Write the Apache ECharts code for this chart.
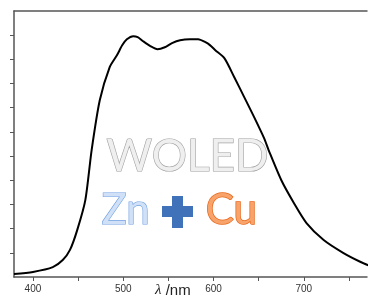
<!DOCTYPE html>
<html>
<head>
<meta charset="utf-8">
<script src="https://cdn.jsdelivr.net/npm/echarts@6/dist/echarts.min.js"></script>
<style>
  html, body { margin: 0; padding: 0; background: #fff; overflow: hidden; }
  #chart { width: 368px; height: 298px; }
</style>
</head>
<body>
<div id="chart"></div>
<script>
// spectrum (wavelength in nm, intensity in tick units)
var wavelength = [379, 400, 422, 433, 441, 449, 458, 465, 474, 485, 493, 499, 504, 511, 516, 522, 530, 538, 546, 554, 563, 574, 583, 591, 596, 602, 612, 623, 634, 645, 656, 661, 675, 689, 703, 722, 744, 763, 772];
var intensity = [0.12, 0.21, 0.41, 0.70, 1.12, 1.94, 3.18, 5.25, 7.31, 8.68, 9.17, 9.59, 9.83, 9.96, 9.92, 9.75, 9.55, 9.42, 9.50, 9.67, 9.79, 9.83, 9.83, 9.71, 9.59, 9.38, 9.05, 8.26, 7.44, 6.61, 5.74, 5.25, 4.01, 3.06, 2.23, 1.53, 0.99, 0.62, 0.48];
var xTicks = [400, 450, 500, 550, 600, 650, 700, 750];
var xLabels = [400, 500, 600, 700];
var yTicks = [1, 2, 3, 4, 5, 6, 7, 8, 9, 10];

var myChart = echarts.init(document.getElementById('chart'));

var points = wavelength.map(function (w, i) { return [w, intensity[i]]; });

var option = {
    animation: false,
    grid: { left: 14, top: 11, bottom: 21, right: 1 },
    xAxis: [
        {
            type: 'value',
            min: 379,
            max: 770,
            axisLine: { lineStyle: { color: '#555', width: 1.5 } },
            axisTick: { customValues: xTicks, length: 4, lineStyle: { color: '#555' } },
            axisLabel: { customValues: xLabels, color: '#333', fontSize: 10, margin: 7, fontFamily: 'Liberation Sans' },
            splitLine: { show: false }
        },
        {
            type: 'value',
            position: 'top',
            min: 379,
            max: 770,
            axisLine: { show: true, lineStyle: { color: '#555', width: 1.5 } },
            axisTick: { show: false },
            axisLabel: { show: false },
            splitLine: { show: false }
        }
    ],
    yAxis: {
        type: 'value',
        min: 0,
        max: 11,
        axisLine: { show: true, lineStyle: { color: '#555', width: 1.5 } },
        axisTick: { show: true, customValues: yTicks, length: 4, lineStyle: { color: '#555' } },
        axisLabel: { show: false },
        splitLine: { show: false }
    },
    graphic: [
        {
            type: 'text',
            left: 155,
            top: 283,
            style: {
                text: '{i|λ} /nm',
                rich: {
                    i: { fontStyle: 'italic', fontSize: 15, fontFamily: 'Liberation Serif', fill: '#222' }
                },
                fontSize: 15,
                fontFamily: 'Liberation Sans',
                fill: '#222'
            }
        },
        {
            type: 'text',
            left: 106,
            top: 134,
            style: {
                text: 'WOLED',
                fontSize: 44,
                fontFamily: 'Lato',
                fill: '#efefef',
                stroke: '#a0a0a0',
                lineWidth: 1.2
            }
        },
        {
            type: 'text',
            left: 101,
            top: 189,
            style: {
                text: 'Zn',
                fontSize: 42,
                fontFamily: 'Lato',
                fill: '#cfe0f7',
                stroke: '#6e9ee0',
                lineWidth: 1.2
            }
        },
        {
            type: 'rect',
            shape: { x: 172, y: 196, width: 11, height: 32 },
            style: { fill: '#3f72b8' }
        },
        {
            type: 'rect',
            shape: { x: 162, y: 206, width: 31, height: 11 },
            style: { fill: '#3f72b8' }
        },
        {
            type: 'text',
            left: 205,
            top: 189,
            style: {
                text: 'Cu',
                fontSize: 42,
                fontFamily: 'Lato',
                fill: '#f7a36a',
                stroke: '#e8681c',
                lineWidth: 1.5
            }
        }
    ],
    series: [
        {
            type: 'line',
            data: points,
            smooth: 0.25,
            showSymbol: false,
            lineStyle: { color: '#000', width: 2 },
            z: 5
        }
    ]
};

myChart.setOption(option);
</script>
</body>
</html>
